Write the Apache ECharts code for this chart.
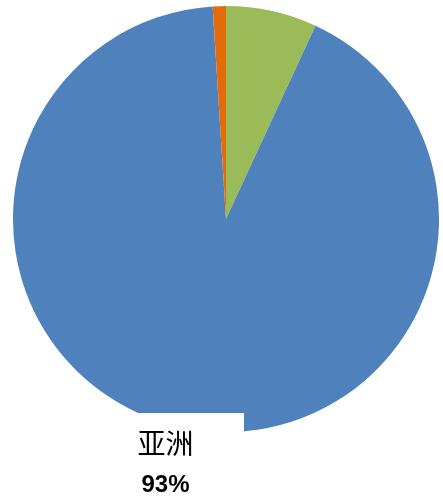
<!DOCTYPE html>
<html lang="zh">
<head>
    <meta charset="UTF-8">
    <title>pie</title>
    <script src="https://cdn.jsdelivr.net/npm/echarts@6/dist/echarts.min.js"></script>
    <style>
        html, body { margin: 0; padding: 0; background: #fff; }
        #charts { width: 443px; height: 498px; }
    </style>
</head>
<body>
<div id="charts"></div>
<script>
    // 数据
    var names = ['欧洲', '亚洲', '其他'];
    var values = [6.9, 92.1, 1.0];
    var pctLabels = ['7%', '93%', '1%'];   // 原图标注的百分比
    var colors = ['#9bbb59', '#4f81bd', '#e36c0a'];
    var labelShown = '亚洲';

    var myChart = echarts.init(document.getElementById('charts'));

    var option = {
        animation: false,
        series: [{
            type: 'pie',
            center: [226, 219],
            radius: [0, 213],
            startAngle: 90,
            clockwise: true,
            avoidLabelOverlap: false,
            data: names.map(function (n, i) {
                return {
                    name: n,
                    value: values[i],
                    itemStyle: {color: colors[i]},
                    label: {show: n === labelShown},
                    labelLine: {show: false}
                };
            }),
            itemStyle: {borderWidth: 0},
            emphasis: {disabled: true},
            label: {
                formatter: function (p) {
                    return '{n|' + p.name + '}\n{p|' + pctLabels[p.dataIndex] + '}';
                },
                backgroundColor: '#fff',
                width: 61,
                align: 'center',
                padding: [12, 48, 0, 0],
                rich: {
                    n: {
                        fontFamily: 'Noto Sans CJK SC',
                        fontSize: 28,
                        lineHeight: 36,
                        color: '#000',
                        align: 'center'
                    },
                    p: {
                        fontFamily: 'Liberation Sans',
                        fontSize: 24,
                        fontWeight: 'bold',
                        lineHeight: 49,
                        color: '#000',
                        align: 'center'
                    }
                }
            },
            labelLayout: function () {
                return {x: 135, y: 413, align: 'left', verticalAlign: 'top', hideOverlap: false};
            }
        }]
    };

    myChart.setOption(option);
</script>
</body>
</html>
